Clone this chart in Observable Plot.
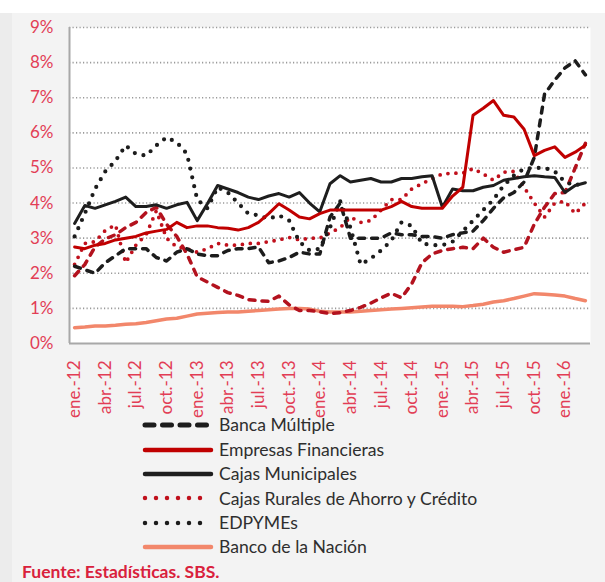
<!DOCTYPE html>
<html>
<head>
<meta charset="utf-8">
<script src="https://cdn.jsdelivr.net/npm/d3@7"></script>
<script src="https://cdn.jsdelivr.net/npm/@observablehq/plot@0.6"></script>
<style>
  html, body { margin: 0; padding: 0; }
  body { width: 605px; height: 582px; background: #ececec; position: relative; overflow: hidden; font-family: Lato, "Open Sans", sans-serif; }
  #top { position: absolute; left: 0; top: 0; width: 605px; height: 13px; background: #ffffff; }
  #panel { position: absolute; left: 12px; top: 13px; width: 593px; height: 569px; background: #f3f3f3; }
  #chart { position: absolute; left: 0; top: 0; }
  #legend { position: absolute; left: 142px; top: 413px; }
  .row { height: 24.4px; display: flex; align-items: center; }
  .row svg { width: 72px; height: 12px; margin-right: 5px; }
  .row span { font-size: 17.6px; color: #2e2e2e; line-height: 1; }
  #source { position: absolute; left: 22px; top: 561px; font-size: 17.5px; font-weight: bold; color: #d9213c; }
</style>
</head>
<body>
<div id="top"></div>
<div id="panel"></div>
<div id="chart"></div>
<div id="legend"></div>
<div id="source">Fuente: Estadísticas. SBS.</div>
<script>
// months: ene-12 (index 0) ... mar-16 (index 50)
const tickIndex = [0, 3, 6, 9, 12, 15, 18, 21, 24, 27, 30, 33, 36, 39, 42, 45, 48];
const tickLabels = ["ene.-12","abr.-12","jul.-12","oct.-12","ene.-13","abr.-13","jul.-13","oct.-13","ene.-14","abr.-14","jul.-14","oct.-14","ene.-15","abr.-15","jul.-15","oct.-15","ene.-16"];
const yTicks = [0,1,2,3,4,5,6,7,8,9];

// values in %
const bancaMultiple = [2.2,2.1,2.0,2.3,2.5,2.7,2.7,2.7,2.45,2.35,2.6,2.7,
  2.55,2.5,2.5,2.65,2.7,2.7,2.75,2.3,2.35,2.45,2.6,2.55,
  2.55,3.6,4.0,3.0,3.0,3.0,3.0,3.15,3.1,3.1,3.05,3.05,
  3.0,3.1,3.15,3.2,3.5,3.85,4.15,4.3,4.6,5.3,7.1,7.5,
  7.85,8.05,7.65];
const empresasFinancieras = [2.75,2.7,2.8,2.85,2.95,3.0,3.05,3.15,3.2,3.25,3.45,3.3,
  3.35,3.35,3.3,3.28,3.23,3.3,3.45,3.7,3.98,3.8,3.6,3.55,
  3.7,3.8,3.8,3.8,3.8,3.8,3.8,3.9,4.05,3.9,3.85,3.85,
  3.85,4.2,4.45,6.5,6.7,6.92,6.5,6.45,6.1,5.35,5.5,5.6,
  5.3,5.45,5.65];
const cajasMunicipales = [3.42,3.93,3.85,3.95,4.05,4.17,3.9,3.9,3.95,3.85,3.95,4.02,
  3.5,3.98,4.5,4.4,4.3,4.17,4.1,4.2,4.27,4.17,4.3,4.0,
  3.75,4.55,4.78,4.6,4.65,4.7,4.6,4.6,4.7,4.7,4.75,4.78,
  3.88,4.4,4.35,4.35,4.45,4.5,4.65,4.7,4.75,4.78,4.75,4.73,
  4.3,4.5,4.58];
const cajasRurales = [2.25,2.85,2.9,3.22,3.38,2.3,2.8,3.1,3.78,3.0,2.75,2.7,
  2.6,2.7,2.85,2.8,2.8,2.85,2.85,2.9,2.95,3.02,2.95,3.0,
  3.0,3.15,3.3,3.6,3.45,3.5,3.8,4.1,4.1,4.4,4.55,4.7,
  4.83,4.85,4.85,4.98,4.83,4.65,4.88,4.9,4.45,4.0,3.6,4.0,
  4.05,3.7,4.0];
const edpymes = [3.05,3.7,4.4,4.9,5.2,5.64,5.4,5.35,5.64,5.87,5.73,5.4,
  4.1,3.85,4.45,4.3,4.0,3.7,3.65,3.55,3.65,3.5,2.9,2.65,
  2.7,3.3,4.05,3.3,2.25,2.42,2.65,2.93,3.45,3.35,2.85,2.8,
  2.8,2.9,3.2,3.5,3.8,4.1,4.5,4.78,4.98,5.0,5.0,4.9,
  4.6,4.5,4.6];
const bancoNacion = [0.45,0.47,0.5,0.5,0.52,0.55,0.56,0.6,0.65,0.7,0.72,0.78,
  0.84,0.86,0.88,0.9,0.9,0.92,0.94,0.96,0.98,1.0,1.0,0.98,
  0.92,0.9,0.9,0.9,0.92,0.94,0.96,0.98,1.0,1.02,1.04,1.06,
  1.06,1.06,1.05,1.08,1.12,1.18,1.22,1.28,1.35,1.42,1.4,1.38,
  1.35,1.28,1.22];
const otraSerie = [1.93,2.25,2.75,2.98,3.1,3.3,3.45,3.73,3.88,3.4,3.05,2.55,
  1.9,1.75,1.6,1.45,1.37,1.25,1.22,1.2,1.35,1.1,0.94,0.94,
  0.9,0.85,0.88,0.94,1.03,1.15,1.3,1.43,1.3,1.7,2.3,2.55,
  2.65,2.7,2.74,2.7,3.0,2.74,2.6,2.67,2.74,3.4,3.88,4.27,
  4.3,5.0,5.7];

const series = [
  {name: "Banco de la Nación", values: bancoNacion, stroke: "#f2876b", width: 3.5, dash: null, cap: "round"},
  {name: "Otra", values: otraSerie, stroke: "#b3121e", width: 3.5, dash: "6,7", cap: "round"},
  {name: "Cajas Rurales de Ahorro y Crédito", values: cajasRurales, stroke: "#c0101c", width: 3.8, dash: "0,8", cap: "round"},
  {name: "EDPYMEs", values: edpymes, stroke: "#1c1c1c", width: 4.2, dash: "0,9", cap: "round"},
  {name: "Banca Múltiple", values: bancaMultiple, stroke: "#1c1c1c", width: 3.5, dash: "6,7", cap: "round"},
  {name: "Cajas Municipales", values: cajasMunicipales, stroke: "#1e1e1e", width: 3, dash: null, cap: "round"},
  {name: "Empresas Financieras", values: empresasFinancieras, stroke: "#c00000", width: 3, dash: null, cap: "round"}
];

const lineMarks = series.map(s => Plot.line(s.values.map((v, i) => ({i, v})), {
  x: "i", y: "v", stroke: s.stroke, strokeWidth: s.width,
  strokeDasharray: s.dash, strokeLinecap: s.cap, strokeLinejoin: "round"
}));

const labelColor = "#e23d55";

const chart = Plot.plot({
  width: 605,
  height: 420,
  marginLeft: 69,
  marginRight: 15,
  marginTop: 27,
  marginBottom: 77,
  style: {background: "transparent", fontFamily: "Lato, 'Open Sans', sans-serif", fontSize: "16px", overflow: "visible"},
  x: {type: "linear", domain: [-0.5, 50.5]},
  y: {domain: [0, 9]},
  marks: [
    Plot.frame({fill: "white", stroke: null}),
    Plot.gridY(yTicks.filter(d => d > 0), {stroke: "#9a9a9a", strokeOpacity: 1, strokeWidth: 1.6, strokeDasharray: "1.2,2.3"}),
    Plot.ruleY([0], {stroke: "#a8a8a8", strokeWidth: 2}),
    Plot.ruleX([-0.5], {stroke: "#a8a8a8", strokeWidth: 2}),
    ...lineMarks,
    Plot.axisY(yTicks, {tickSize: 0, tickPadding: 16, tickFormat: d => d + "%", fill: labelColor, fontSize: 17, label: null}),
    Plot.axisX(tickIndex, {tickSize: 0, tickPadding: 17, tickRotate: -90, tickFormat: d => tickLabels[tickIndex.indexOf(d)], fill: labelColor, fontSize: 17, label: null})
  ]
});
document.getElementById("chart").appendChild(chart);

// legend
const legendItems = [
  {name: "Banca Múltiple", stroke: "#1c1c1c", width: 5, dash: "9,8.5"},
  {name: "Empresas Financieras", stroke: "#c00000", width: 4.5, dash: null},
  {name: "Cajas Municipales", stroke: "#1e1e1e", width: 4.5, dash: null},
  {name: "Cajas Rurales de Ahorro y Crédito", stroke: "#c0101c", width: 4.5, dash: "0,11"},
  {name: "EDPYMEs", stroke: "#1c1c1c", width: 4.5, dash: "0,11"},
  {name: "Banco de la Nación", stroke: "#f2876b", width: 4.5, dash: null}
];
const leg = document.getElementById("legend");
for (const it of legendItems) {
  const row = document.createElement("div");
  row.className = "row";
  const svgNS = "http://www.w3.org/2000/svg";
  const svg = document.createElementNS(svgNS, "svg");
  svg.setAttribute("width", 72); svg.setAttribute("height", 12);
  const ln = document.createElementNS(svgNS, "line");
  ln.setAttribute("x1", 3); ln.setAttribute("x2", 69); ln.setAttribute("y1", 6); ln.setAttribute("y2", 6);
  ln.setAttribute("stroke", it.stroke); ln.setAttribute("stroke-width", it.width);
  ln.setAttribute("stroke-linecap", "round");
  if (it.dash) ln.setAttribute("stroke-dasharray", it.dash);
  svg.appendChild(ln);
  const sp = document.createElement("span");
  sp.textContent = it.name;
  row.appendChild(svg); row.appendChild(sp);
  leg.appendChild(row);
}
</script>
</body>
</html>
